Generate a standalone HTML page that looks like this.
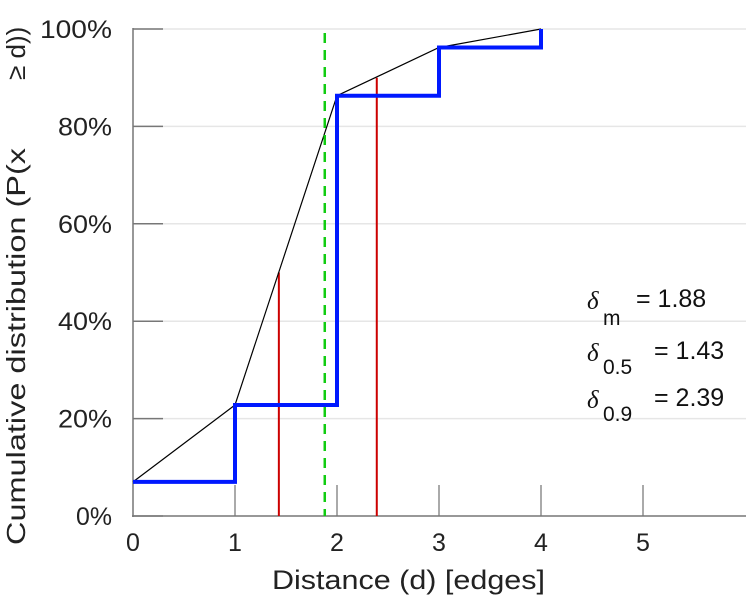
<!DOCTYPE html>
<html><head><meta charset="utf-8"><style>
body{margin:0;background:#fff}
svg{display:block;font-family:"Liberation Sans",sans-serif}
</style></head><body>
<svg width="749" height="600" viewBox="0 0 749 600">
<g id="grid"></g>
<g id="axes"></g>
<g id="marks"></g>
<g id="labels"></g>
<text x="272" y="589" font-size="27" textLength="273" lengthAdjust="spacingAndGlyphs" fill="#222">Distance (d) [edges]</text>
<g fill="#222" font-size="26">
<text transform="translate(25,545) rotate(-90)" textLength="397" lengthAdjust="spacingAndGlyphs">Cumulative distribution (P(x</text>
<text transform="translate(25,80) rotate(-90)">≥ d))</text>
</g>
<g font-size="25" fill="#111">
<text x="587" y="309" font-style="italic" font-family="Liberation Serif,serif">δ</text><text x="603" y="325" font-size="21">m</text><text x="636" y="307">= 1.88</text>
<text x="587" y="361" font-style="italic" font-family="Liberation Serif,serif">δ</text><text x="603" y="374" font-size="21">0.5</text><text x="654" y="359">= 1.43</text>
<text x="587" y="408" font-style="italic" font-family="Liberation Serif,serif">δ</text><text x="603" y="421" font-size="21">0.9</text><text x="654" y="406">= 2.39</text>
</g>
</svg>
<script>
const xVals=[0,1,2,3,4];
const cdf=[7,22.8,86.3,96.2,100];
const xTicks=[0,1,2,3,4,5];
const yTicks=[0,20,40,60,80,100];
const medians=[1.43,2.39];
const medianLevels=[50,90];
const meanVal=1.88;
const NS="http://www.w3.org/2000/svg";
const X=v=>133+v*102, Y=p=>516-p*4.87;
function mk(t,a,parent){const e=document.createElementNS(NS,t);for(const k in a)e.setAttribute(k,a[k]);document.getElementById(parent).appendChild(e);return e;}
yTicks.forEach(t=>{
 if(t>0){const g=mk('line',{x1:133,x2:746,y1:Y(t),y2:Y(t),stroke:'#e6e6e6','stroke-width':1.5},'grid');
 
 }
 const tk=mk('line',{x1:133,x2:163,y1:Y(t),y2:Y(t),stroke:'#777','stroke-width':1.5},'axes');
 
 
 const s=t+'%';
 const l=mk('text',{x:112,y:Y(t)+9,'font-size':25,'text-anchor':'end',fill:'#222',textLength:s.length*18,lengthAdjust:'spacingAndGlyphs'},'labels');l.textContent=s;
 
 
});
xTicks.forEach(t=>{
 const tk=mk('line',{x1:X(t),x2:X(t),y1:485,y2:516,stroke:'#555','stroke-width':1},'axes');
 
 
 const l=mk('text',{x:X(t),y:551,'font-size':25,'text-anchor':'middle',fill:'#222'},'labels');l.textContent=t;
 
 
});
const ya=mk('line',{x1:133,x2:133,y1:28,y2:517,stroke:'#777','stroke-width':1.5},'axes');


const xa=mk('line',{x1:132,x2:746,y1:516,y2:516,stroke:'#777','stroke-width':1.5},'axes');


medians.forEach((m,i)=>{
 const r=mk('line',{x1:X(m),x2:X(m),y1:516,y2:Y(medianLevels[i]),stroke:'#cc0000','stroke-width':2},'marks');
 
 
});
const pl=mk('polyline',{points:xVals.map((x,i)=>X(x)+','+Y(cdf[i])).join(' '),fill:'none',stroke:'#000','stroke-width':1.2},'marks');


let pts=[];
xVals.forEach((x,i)=>{if(i>0)pts.push(X(x)+','+Y(cdf[i-1]));pts.push(X(x)+','+Y(cdf[i]));});
const st=mk('polyline',{points:pts.join(' '),fill:'none',stroke:'#0019ff','stroke-width':4},'marks');


const gl=mk('line',{x1:X(meanVal),x2:X(meanVal),y1:33,y2:516,stroke:'#11cc11','stroke-width':2.5,'stroke-dasharray':'10,7'},'marks');


</script>
</body></html>
